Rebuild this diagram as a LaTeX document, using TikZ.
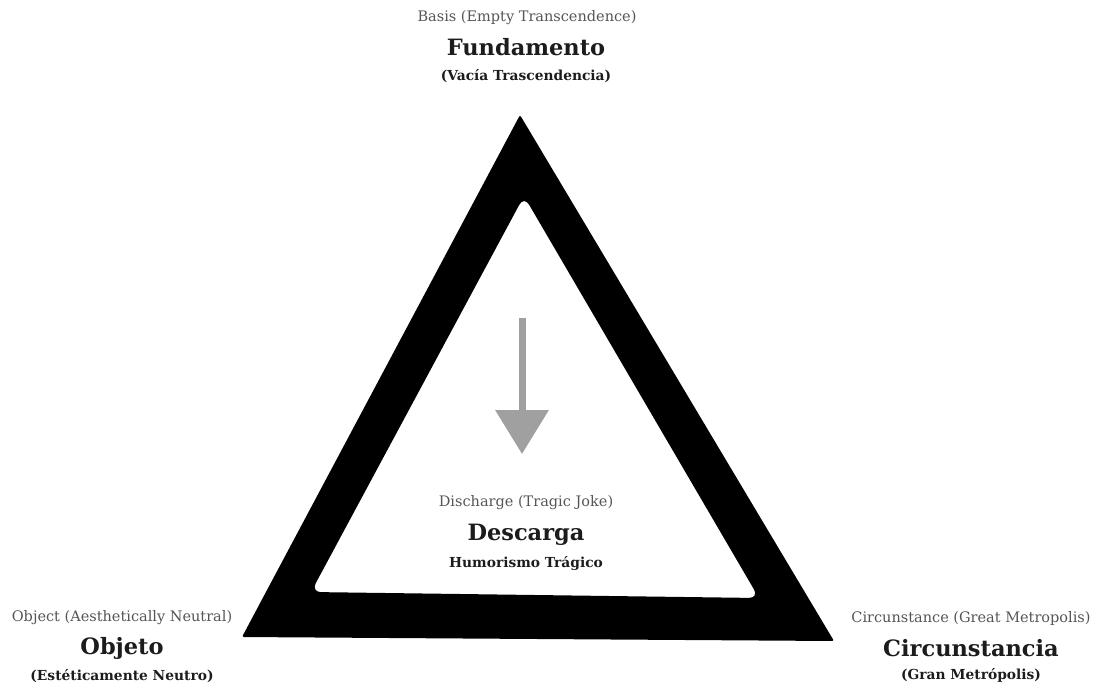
\documentclass[tikz,border=0pt]{standalone}
\usepackage{fontspec}
\setmainfont{DejaVu Serif}
\usetikzlibrary{arrows.meta}
\definecolor{engray}{HTML}{555555}
\definecolor{ink}{HTML}{1C1C1C}
\definecolor{arrowgray}{HTML}{A0A0A0}
\tikzset{
  entext/.style={text=engray, font=\fontsize{14.5}{17}\selectfont, inner sep=0pt, anchor=center},
  maintext/.style={text=ink, font=\fontsize{22.5}{26}\selectfont\bfseries, inner sep=0pt, anchor=center},
  subtext/.style={text=ink, font=\fontsize{13.8}{16}\selectfont\bfseries, inner sep=0pt, anchor=center},
}
\begin{document}
\begin{tikzpicture}[x=1pt,y=-1pt]
\useasboundingbox (0,0) rectangle (1100,688);
% triangle frame
\fill[black, even odd rule, rounded corners=2pt]
  (520,115) -- (834,641) -- (242,637) -- cycle
  [rounded corners=10pt] (524,196) -- (759,598) -- (311,592) -- cycle;
% arrow
\coordinate (astart) at (522,318);
\coordinate (aend) at (522,454);
\draw[arrowgray, line width=7pt, -{Triangle[width=52pt,length=44pt]}] (astart) -- (aend);
% top
\node[entext] (basisEn) at (527,18) {Basis (Empty Transcendence)};
\node[maintext] (basis) at (526,47) {Fundamento};
\node[subtext] (basisSub) at (526,76) {(Vacía Trascendencia)};
% left
\node[entext] (objEn) at (122,618) {Object (Aesthetically Neutral)};
\node[maintext] (obj) at (122,648) {Objeto};
\node[subtext] (objSub) at (122,676) {(Estéticamente Neutro)};
% right
\node[entext] (cirEn) at (971,618) {Circunstance (Great Metropolis)};
\node[maintext] (cir) at (971,648) {Circunstancia};
\node[subtext] (cirSub) at (971,675) {(Gran Metrópolis)};
% center
\node[entext] (disEn) at (526,503) {Discharge (Tragic Joke)};
\node[maintext] (dis) at (526,535) {Descarga};
\node[subtext] (disSub) at (526,564) {Humorismo Trágico};
\end{tikzpicture}
\end{document}
